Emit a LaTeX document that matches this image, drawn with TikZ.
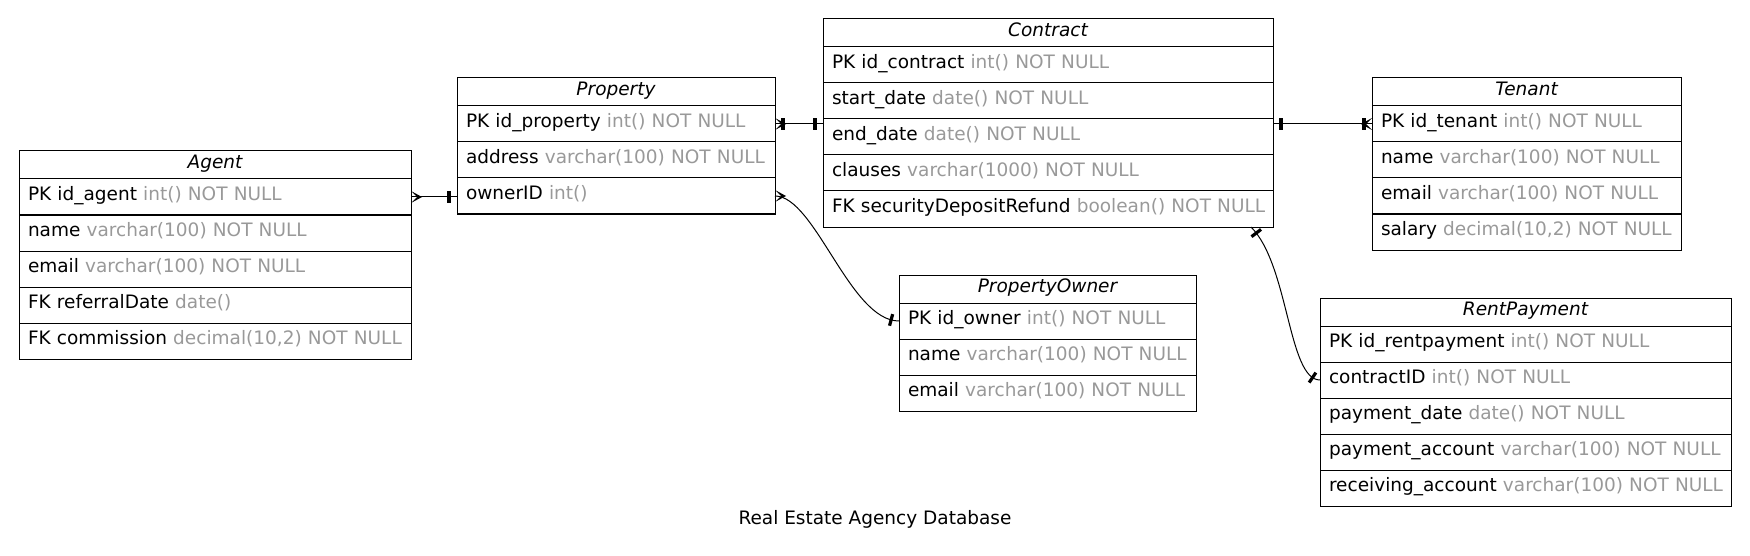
\documentclass[tikz,border=0pt]{standalone}
\usepackage{fontspec}
\setmainfont[Scale=1.85]{DejaVu Sans}
\usetikzlibrary{decorations.markings}

\definecolor{typegray}{HTML}{999999}

\tikzset{
    tablehead/.style={draw, line width=1pt, anchor=north west, outer sep=0pt,
        minimum height=28pt, inner xsep=9pt, inner ysep=2pt, text width=#1pt, align=center,
        text height=12pt, text depth=5pt, font=\itshape},
    tablerow/.style={draw, line width=1pt, anchor=north west, outer sep=0pt,
        minimum height=36pt, inner xsep=9pt, inner ysep=2pt, text width=#1pt, align=left,
        text height=12pt, text depth=5pt,
        execute at begin node=\hbox\bgroup, execute at end node=\egroup},
    link/.style={line width=1pt},
    tee start/.style={postaction={decorate, decoration={markings,
        mark=at position 8pt with {\fill (-1.6,-6) rectangle (1.6,6);}}}},
    tee end/.style={postaction={decorate, decoration={markings,
        mark=at position -8pt with {\fill (-1.6,-6) rectangle (1.6,6);}}}},
    crow start/.style={postaction={decorate, decoration={markings,
        mark=at position 0pt with {\fill (0,-6) -- (11,0) -- (0,6) -- (6,0) -- cycle;}}}},
    crow end/.style={postaction={decorate, decoration={markings,
        mark=at position 1 with {\fill (0,-6) -- (-11,0) -- (0,6) -- (-6,0) -- cycle;}}}}
}

\begin{document}
\begin{tikzpicture}[x=1pt, y=-1pt]
    \useasboundingbox (0,0) rectangle (1750,556);

    % Agent
    \node[tablehead=374] (agent) at (19,151) {Agent};
    \node[tablerow=374] (agentpk) at (19,179) {PK id\_agent \textcolor{typegray}{int() NOT NULL}};
    \node[tablerow=374] (agentname) at (19,215) {name \textcolor{typegray}{varchar(100) NOT NULL}};
    \node[tablerow=374] (agentmail) at (19,251) {email \textcolor{typegray}{varchar(100) NOT NULL}};
    \node[tablerow=374] (agentref) at (19,287) {FK referralDate \textcolor{typegray}{date()}};
    \node[tablerow=374] (agentcom) at (19,323) {FK commission \textcolor{typegray}{decimal(10,2) NOT NULL}};

    % Property
    \node[tablehead=300] (property) at (457,78) {Property};
    \node[tablerow=300] (proppk) at (457,106) {PK id\_property \textcolor{typegray}{int() NOT NULL}};
    \node[tablerow=300] (propaddr) at (457,142) {address \textcolor{typegray}{varchar(100) NOT NULL}};
    \node[tablerow=300] (propowner) at (457,178) {ownerID \textcolor{typegray}{int()}};

    % Contract
    \node[tablehead=432] (contract) at (823,19) {Contract};
    \node[tablerow=432] (cpk) at (823,47) {PK id\_contract \textcolor{typegray}{int() NOT NULL}};
    \node[tablerow=432] (cstart) at (823,83) {start\_date \textcolor{typegray}{date() NOT NULL}};
    \node[tablerow=432] (cend) at (823,119) {end\_date \textcolor{typegray}{date() NOT NULL}};
    \node[tablerow=432] (cclause) at (823,155) {clauses \textcolor{typegray}{varchar(1000) NOT NULL}};
    \node[tablerow=432] (cfk) at (823,191) {FK securityDepositRefund \textcolor{typegray}{boolean() NOT NULL}};

    % Tenant
    \node[tablehead=291] (tenant) at (1372,78) {Tenant};
    \node[tablerow=291] (tenantpk) at (1372,106) {PK id\_tenant \textcolor{typegray}{int() NOT NULL}};
    \node[tablerow=291] (tenantname) at (1372,142) {name \textcolor{typegray}{varchar(100) NOT NULL}};
    \node[tablerow=291] (tenantmail) at (1372,178) {email \textcolor{typegray}{varchar(100) NOT NULL}};
    \node[tablerow=291] (tenantsal) at (1372,214) {salary \textcolor{typegray}{decimal(10,2) NOT NULL}};

    % PropertyOwner
    \node[tablehead=279] (owner) at (899,275) {PropertyOwner};
    \node[tablerow=279] (ownerpk) at (899,303) {PK id\_owner \textcolor{typegray}{int() NOT NULL}};
    \node[tablerow=279] (ownername) at (899,339) {name \textcolor{typegray}{varchar(100) NOT NULL}};
    \node[tablerow=279] (ownermail) at (899,375) {email \textcolor{typegray}{varchar(100) NOT NULL}};

    % RentPayment
    \node[tablehead=393] (rent) at (1320,298) {RentPayment};
    \node[tablerow=393] (rentpk) at (1320,326) {PK id\_rentpayment \textcolor{typegray}{int() NOT NULL}};
    \node[tablerow=393] (rentcid) at (1320,362) {contractID \textcolor{typegray}{int() NOT NULL}};
    \node[tablerow=393] (rentdate) at (1320,398) {payment\_date \textcolor{typegray}{date() NOT NULL}};
    \node[tablerow=393] (rentpay) at (1320,434) {payment\_account \textcolor{typegray}{varchar(100) NOT NULL}};
    \node[tablerow=393] (rentrecv) at (1320,470) {receiving\_account \textcolor{typegray}{varchar(100) NOT NULL}};

    % relations
    \draw[link, crow start, tee end] (agentpk.east) -- (agentpk.east -| propowner.west);
    \draw[link, crow start, tee start, tee end] (proppk.east) -- (proppk.east -| cend.west);
    \draw[link, tee start, tee end, crow end] (tenantpk.west -| cend.east) -- (tenantpk.west);
    \draw[link, crow start, tee end] (propowner.east) .. controls +(40,0) and +(-49,0) .. (ownerpk.west);
    \draw[link, tee start, tee end] ([xshift=-22pt]cfk.south east) .. controls +(38,38) and +(-32,0) .. (rentcid.west);

    \node (title) at (875,519) {Real Estate Agency Database};

\end{tikzpicture}
\end{document}
